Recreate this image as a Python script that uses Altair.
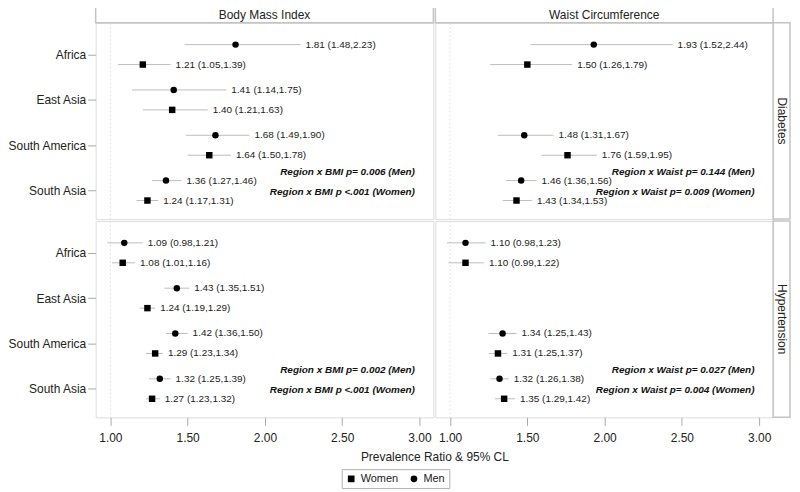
import json
import altair as alt
import pandas as pd

regions = ["Africa", "East Asia", "South America", "South Asia"]
measures = ["Body Mass Index", "Waist Circumference"]
outcomes = ["Diabetes", "Hypertension"]
sexes = ["Men", "Women"]

# Diabetes - Body Mass Index
dia_bmi_men_pr = [1.81, 1.41, 1.68, 1.36]
dia_bmi_men_lo = [1.48, 1.14, 1.49, 1.27]
dia_bmi_men_hi = [2.23, 1.75, 1.90, 1.46]
dia_bmi_wom_pr = [1.21, 1.40, 1.64, 1.24]
dia_bmi_wom_lo = [1.05, 1.21, 1.50, 1.17]
dia_bmi_wom_hi = [1.39, 1.63, 1.78, 1.31]
# Diabetes - Waist Circumference
dia_wc_men_pr = [1.93, None, 1.48, 1.46]
dia_wc_men_lo = [1.52, None, 1.31, 1.36]
dia_wc_men_hi = [2.44, None, 1.67, 1.56]
dia_wc_wom_pr = [1.50, None, 1.76, 1.43]
dia_wc_wom_lo = [1.26, None, 1.59, 1.34]
dia_wc_wom_hi = [1.79, None, 1.95, 1.53]
# Hypertension - Body Mass Index
hyp_bmi_men_pr = [1.09, 1.43, 1.42, 1.32]
hyp_bmi_men_lo = [0.98, 1.35, 1.36, 1.25]
hyp_bmi_men_hi = [1.21, 1.51, 1.50, 1.39]
hyp_bmi_wom_pr = [1.08, 1.24, 1.29, 1.27]
hyp_bmi_wom_lo = [1.01, 1.19, 1.23, 1.23]
hyp_bmi_wom_hi = [1.16, 1.29, 1.34, 1.32]
# Hypertension - Waist Circumference
hyp_wc_men_pr = [1.10, None, 1.34, 1.32]
hyp_wc_men_lo = [0.98, None, 1.25, 1.26]
hyp_wc_men_hi = [1.23, None, 1.43, 1.38]
hyp_wc_wom_pr = [1.10, None, 1.31, 1.35]
hyp_wc_wom_lo = [0.99, None, 1.25, 1.29]
hyp_wc_wom_hi = [1.22, None, 1.37, 1.42]

annotations = {
    ("Diabetes", "Body Mass Index"): ["Region x BMI p= 0.006 (Men)", "Region x BMI p <.001 (Women)"],
    ("Diabetes", "Waist Circumference"): ["Region x Waist p= 0.144 (Men)", "Region x Waist p= 0.009 (Women)"],
    ("Hypertension", "Body Mass Index"): ["Region x BMI p= 0.002 (Men)", "Region x BMI p <.001 (Women)"],
    ("Hypertension", "Waist Circumference"): ["Region x Waist p= 0.027 (Men)", "Region x Waist p= 0.004 (Women)"],
}

x_ticks = [1.0, 1.5, 2.0, 2.5, 3.0]
legend_order = ["Women", "Men"]
axis_title = "Prevalence Ratio & 95% CL"

series = {
    ("Diabetes", "Body Mass Index"): {
        "Men": (dia_bmi_men_pr, dia_bmi_men_lo, dia_bmi_men_hi),
        "Women": (dia_bmi_wom_pr, dia_bmi_wom_lo, dia_bmi_wom_hi)},
    ("Diabetes", "Waist Circumference"): {
        "Men": (dia_wc_men_pr, dia_wc_men_lo, dia_wc_men_hi),
        "Women": (dia_wc_wom_pr, dia_wc_wom_lo, dia_wc_wom_hi)},
    ("Hypertension", "Body Mass Index"): {
        "Men": (hyp_bmi_men_pr, hyp_bmi_men_lo, hyp_bmi_men_hi),
        "Women": (hyp_bmi_wom_pr, hyp_bmi_wom_lo, hyp_bmi_wom_hi)},
    ("Hypertension", "Waist Circumference"): {
        "Men": (hyp_wc_men_pr, hyp_wc_men_lo, hyp_wc_men_hi),
        "Women": (hyp_wc_wom_pr, hyp_wc_wom_lo, hyp_wc_wom_hi)},
}

W = 339
H = 197
OFF = {"Men": -0.22, "Women": 0.22}
XDOM = [0.905, 3.09]
YDOM = [-0.70, 3.63]
FONT = "Liberation Sans"
BORDER = "#c4c4c4"

label_expr = json.dumps(regions) + "[datum.value]"


def panel(outcome, measure, top, right, left, bottom):
    rows = []
    for sex in sexes:
        pr, lo, hi = series[(outcome, measure)][sex]
        for i, r in enumerate(regions):
            if pr[i] is None:
                continue
            rows.append({"region": r, "sex": sex, "pr": pr[i], "lo": lo[i], "hi": hi[i],
                         "ypos": i + OFF[sex],
                         "label": f"{pr[i]:.2f} ({lo[i]:.2f},{hi[i]:.2f})"})
    df = pd.DataFrame(rows)

    xscale = alt.Scale(domain=XDOM, nice=False, zero=False)
    yscale = alt.Scale(domain=YDOM, reverse=True, nice=False, zero=False)

    if bottom:
        xaxis = alt.Axis(values=x_ticks, format=".2f", grid=False, domain=False,
                         tickSize=8, tickColor="#aaaaaa", labelFontSize=12, labelColor="#222",
                         labelPadding=7,
                         title=axis_title if left else None,
                         titleX=W + 1, titleY=39, titleAlign="center", titleAnchor="middle",
                         titleBaseline="middle",
                         titleFontSize=12, titleFontWeight="normal", titleColor="#222")
    else:
        xaxis = None
    if left:
        yaxis = alt.Axis(values=[0, 1, 2, 3], labelExpr=label_expr, grid=False, domain=False,
                         tickSize=8, tickColor="#aaaaaa", labelFontSize=12, labelColor="#222",
                         labelPadding=2, title=None)
    else:
        yaxis = None

    ref = alt.Chart(pd.DataFrame({"x": [1.0]})).mark_rule(
        color="#e4e4e4", strokeWidth=1, strokeDash=[2, 2]).encode(
        x=alt.X("x:Q", scale=xscale, axis=xaxis))

    base = alt.Chart(df)
    bars = base.mark_rule(color="#bdbdbd", strokeWidth=1).encode(
        x=alt.X("lo:Q", scale=xscale, axis=xaxis),
        x2="hi:Q",
        y=alt.Y("ypos:Q", scale=yscale, axis=yaxis))
    pts = base.mark_point(filled=True, opacity=1, color="black", size=42).encode(
        x=alt.X("pr:Q", scale=xscale),
        y=alt.Y("ypos:Q", scale=yscale),
        shape=alt.Shape("sex:N",
                        scale=alt.Scale(domain=legend_order, range=["square", "circle"]),
                        legend=alt.Legend(title=None, orient="none", direction="horizontal",
                                          legendX=247, legendY=448,
                                          strokeColor="#b0b0b0", padding=4,
                                          labelFontSize=11, labelColor="#222",
                                          symbolFillColor="black", symbolStrokeWidth=0,
                                          symbolSize=45, columnPadding=10,
                                          labelFont=FONT)))
    txt = base.mark_text(align="left", baseline="middle", dx=5, fontSize=10,
                         color="#222", font=FONT).encode(
        x=alt.X("hi:Q", scale=xscale),
        y=alt.Y("ypos:Q", scale=yscale),
        text="label:N")

    ann_df = pd.DataFrame({"t": annotations[(outcome, measure)],
                           "ypos": [3 - 0.41, 3 + 0.03],
                           "x": [2.97, 2.97]})
    ann = alt.Chart(ann_df).mark_text(align="right", baseline="middle", fontSize=10,
                                      fontStyle="italic", fontWeight="bold",
                                      color="#111", font=FONT).encode(
        x=alt.X("x:Q", scale=xscale),
        y=alt.Y("ypos:Q", scale=yscale),
        text="t:N")

    layers = [ref, bars, pts, txt, ann]

    if top:
        hdr = pd.DataFrame({"t": [measure]})
        hbox = alt.Chart(hdr).mark_rect(fillOpacity=0, stroke=BORDER, strokeWidth=1.5).encode(
            x=alt.value(0), x2=alt.value(W), y=alt.value(-16), y2=alt.value(0))
        htxt = alt.Chart(hdr).mark_text(fontSize=12, color="#222", font=FONT,
                                        baseline="middle").encode(
            x=alt.value(W / 2), y=alt.value(-8), text="t:N")
        layers += [hbox, htxt]
    if right:
        st = pd.DataFrame({"t": [outcome]})
        sbox = alt.Chart(st).mark_rect(fillOpacity=0, stroke=BORDER, strokeWidth=1.5).encode(
            x=alt.value(W), x2=alt.value(W + 17), y=alt.value(0), y2=alt.value(H))
        stxt = alt.Chart(st).mark_text(fontSize=12, color="#222", font=FONT, angle=90,
                                       baseline="middle").encode(
            x=alt.value(W + 8.5), y=alt.value(H / 2), text="t:N")
        layers += [sbox, stxt]

    return alt.layer(*layers).properties(width=W, height=H)


cells = []
for ri, outcome in enumerate(outcomes):
    for ci, measure in enumerate(measures):
        cells.append(panel(outcome, measure, top=(ri == 0), right=(ci == 1),
                           left=(ci == 0), bottom=(ri == 1)))

chart = alt.concat(*cells, columns=2, spacing=2, bounds="flush").properties(
    padding={"left": -2, "top": -4, "right": 0, "bottom": 0}
).configure_view(stroke=BORDER, strokeWidth=1.5).configure(
    font=FONT
).configure_axis(labelFont=FONT, titleFont=FONT)

chart.save("out.html", embed_options={"renderer": "svg", "actions": False})
